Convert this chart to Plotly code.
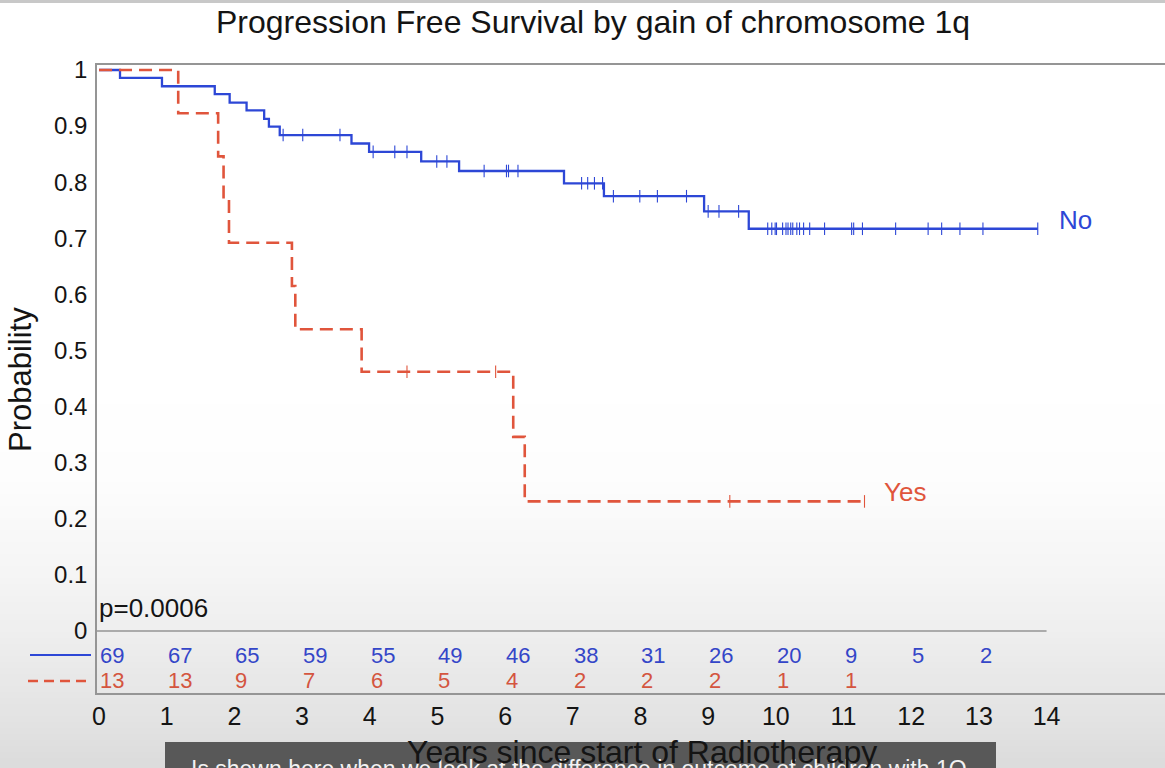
import numpy as np
import plotly.graph_objects as go

# ---------------- data ----------------
no_times = [0, 0.31, 0.93, 1.71, 1.93, 2.18, 2.44, 2.51, 2.67, 3.73, 3.99, 4.76, 5.32, 6.87, 7.46, 8.94, 9.60]
no_surv = [1.0, 0.986, 0.971, 0.957, 0.942, 0.928, 0.913, 0.899, 0.884, 0.869, 0.854, 0.837, 0.820, 0.798, 0.775, 0.748, 0.717]
no_end = 13.87
no_censor = [2.72, 3.01, 3.56, 4.05, 4.37, 4.55, 4.99, 5.14, 5.69, 6.02, 6.05, 6.19,
             7.13, 7.22, 7.32, 7.44, 7.60, 7.99, 8.25, 8.68, 9.00, 9.16, 9.45,
             9.88, 9.94, 9.99, 10.01, 10.10, 10.15, 10.18, 10.22, 10.25, 10.31, 10.35,
             10.41, 10.50, 10.72, 11.12, 11.15, 11.28, 11.77, 12.25, 12.45, 12.72, 13.06, 13.87]

yes_times = [0, 1.17, 1.76, 1.84, 1.92, 2.85, 2.90, 3.88, 6.12, 6.29]
yes_surv = [1.0, 0.923, 0.846, 0.769, 0.692, 0.615, 0.538, 0.462, 0.346, 0.231]
yes_end = 11.31
yes_censor = [4.55, 5.86, 9.32, 11.31]

risk_times = list(range(14))
no_risk = [69, 67, 65, 59, 55, 49, 46, 38, 31, 26, 20, 9, 5, 2]
yes_risk = [13, 13, 9, 7, 6, 5, 4, 2, 2, 2, 1, 1]

x_ticks = list(range(15))
y_ticks = [0, 0.1, 0.2, 0.3, 0.4, 0.5, 0.6, 0.7, 0.8, 0.9, 1]
y_ticklabels = ["0", "0.1", "0.2", "0.3", "0.4", "0.5", "0.6", "0.7", "0.8", "0.9", "1"]

title_text = "Progression Free Survival by gain of chromosome 1q"
xlabel = "Years since start of Radiotherapy"
ylabel = "Probability"
p_text = "p=0.0006"
caption = "Is shown here when we look at the difference in outcome of children with 1Q"

# ---------------- style ----------------
W, H = 1165, 768
L, R, T, B = 97, 0, 65, 75
FONT = "Liberation Sans, Arial, Helvetica, sans-serif"
BLUE = "#2d47d6"
BLUE_TXT = "#3446c8"
RED = "#e0553c"
RED_TXT = "#d4553f"
AXIS = "#959595"
INK = "#141414"

plot_h = H - T - B
plot_w = W - L - R


def py2paper(py):
    return (H - B - py) / plot_h


def px2paper(px):
    return (px - L) / plot_w


def step_at(times, surv, t):
    idx = np.searchsorted(np.array(times), np.array(t), side="right") - 1
    return np.array(surv)[idx]


fig = go.Figure()

# survival curves
fig.add_trace(go.Scatter(
    x=no_times + [no_end], y=no_surv + [no_surv[-1]], mode="lines",
    line=dict(shape="hv", color=BLUE, width=2.3), hoverinfo="skip", showlegend=False))
fig.add_trace(go.Scatter(
    x=no_censor, y=step_at(no_times, no_surv, no_censor), mode="markers",
    marker=dict(symbol="line-ns", size=9, line=dict(width=1.1, color=BLUE)),
    hoverinfo="skip", showlegend=False))
fig.add_trace(go.Scatter(
    x=yes_times + [yes_end], y=yes_surv + [yes_surv[-1]], mode="lines",
    line=dict(shape="hv", color=RED, width=2.6, dash="13px,7px"), hoverinfo="skip", showlegend=False))
fig.add_trace(go.Scatter(
    x=yes_censor, y=step_at(yes_times, yes_surv, yes_censor), mode="markers",
    marker=dict(symbol="line-ns", size=9, line=dict(width=1.1, color=RED)),
    hoverinfo="skip", showlegend=False))

shapes = []
# background gradient (video-frame shading)
band_py = np.arange(380, 772, 6)
grey = np.interp(band_py, [380, 470, 560, 631, 700, 768], [255, 253, 246, 238, 229, 219])
for i in range(len(band_py) - 1):
    g = int(round(grey[i]))
    shapes.append(dict(type="rect", xref="paper", yref="paper", layer="below",
                       x0=px2paper(0), x1=px2paper(W), y0=py2paper(band_py[i + 1]), y1=py2paper(band_py[i]),
                       fillcolor=f"rgb({g},{g},{g})", line=dict(width=0)))
# top strip
shapes.append(dict(type="rect", xref="paper", yref="paper", layer="below",
                   x0=px2paper(0), x1=px2paper(W), y0=py2paper(3), y1=py2paper(-2),
                   fillcolor="#c8c8c8", line=dict(width=0)))
# zero line separating the risk table
shapes.append(dict(type="line", xref="x", yref="y", x0=-0.03, x1=14, y0=0, y1=0,
                   line=dict(color=AXIS, width=1.5)))
# legend line samples beside risk table
row_no_y = -0.0428
row_yes_y = -0.0891
shapes.append(dict(type="line", xref="paper", yref="y", x0=px2paper(30), x1=px2paper(91),
                   y0=row_no_y, y1=row_no_y, line=dict(color=BLUE, width=2)))
shapes.append(dict(type="line", xref="paper", yref="y", x0=px2paper(28), x1=px2paper(92),
                   y0=row_yes_y, y1=row_yes_y, line=dict(color=RED, width=2.5, dash="10px,6px")))
# caption box
shapes.append(dict(type="rect", xref="paper", yref="paper",
                   x0=px2paper(165), x1=px2paper(996), y0=py2paper(775), y1=py2paper(742),
                   fillcolor="rgba(70,70,70,0.88)", line=dict(width=0)))

annotations = []
for t, n in zip(risk_times, no_risk):
    annotations.append(dict(x=t, y=row_no_y, xref="x", yref="y", text=str(n), showarrow=False,
                            xanchor="left", yanchor="middle", xshift=-1,
                            font=dict(size=22, color=BLUE_TXT, family=FONT)))
for t, n in zip(risk_times, yes_risk):
    annotations.append(dict(x=t, y=row_yes_y, xref="x", yref="y", text=str(n), showarrow=False,
                            xanchor="left", yanchor="middle", xshift=-1,
                            font=dict(size=22, color=RED_TXT, family=FONT)))

annotations.append(dict(x=14.15, y=0.733, xref="x", yref="y", text="No", showarrow=False,
                        xanchor="left", yanchor="middle", font=dict(size=26, color=BLUE, family=FONT)))
annotations.append(dict(x=11.57, y=0.248, xref="x", yref="y", text="Yes", showarrow=False,
                        xanchor="left", yanchor="middle", font=dict(size=26, color=RED, family=FONT)))
annotations.append(dict(x=0.0, y=0.041, xref="x", yref="y", text=p_text, showarrow=False,
                        xanchor="left", yanchor="middle", xshift=-2,
                        font=dict(size=26, color=INK, family=FONT)))
annotations.append(dict(x=px2paper(20), y=py2paper(380), xref="paper", yref="paper", text=ylabel,
                        textangle=-90, showarrow=False, xanchor="center", yanchor="middle",
                        font=dict(size=31, color=INK, family=FONT)))
annotations.append(dict(x=px2paper(579), y=py2paper(769), xref="paper", yref="paper", text=caption,
                        showarrow=False, xanchor="center", yanchor="middle",
                        font=dict(size=23, color="#f2f2f2", family=FONT)))
annotations.append(dict(x=px2paper(642), y=py2paper(752), xref="paper", yref="paper", text=xlabel,
                        showarrow=False, xanchor="center", yanchor="middle",
                        font=dict(size=32, color=INK, family=FONT)))
annotations.append(dict(x=px2paper(593), y=py2paper(22), xref="paper", yref="paper", text=title_text,
                        showarrow=False, xanchor="center", yanchor="middle",
                        font=dict(size=32, color=INK, family=FONT)))

fig.update_layout(
    width=W, height=H,
    margin=dict(l=L, r=R, t=T, b=B, pad=0),
    paper_bgcolor="white", plot_bgcolor="rgba(0,0,0,0)",
    shapes=shapes, annotations=annotations, showlegend=False,
    xaxis=dict(range=[-0.03, 15.75], tickvals=x_ticks, ticktext=[str(v) for v in x_ticks],
               showgrid=False, zeroline=False, showline=True, mirror=True, linecolor=AXIS, linewidth=1.5,
               ticks="", tickfont=dict(size=25, color=INK, family=FONT), fixedrange=True),
    yaxis=dict(range=[-0.1105, 1.0089], tickvals=y_ticks, ticktext=y_ticklabels,
               showgrid=False, zeroline=False, showline=True, mirror=False, linecolor=AXIS, linewidth=1.5,
               ticks="outside", ticklen=3, tickcolor="rgba(0,0,0,0)",
               tickfont=dict(size=24, color=INK, family=FONT), fixedrange=True),
)

fig.write_html("out.html", config={"displayModeBar": False},
               post_script="document.body.style.margin='0';document.body.style.padding='0';")
